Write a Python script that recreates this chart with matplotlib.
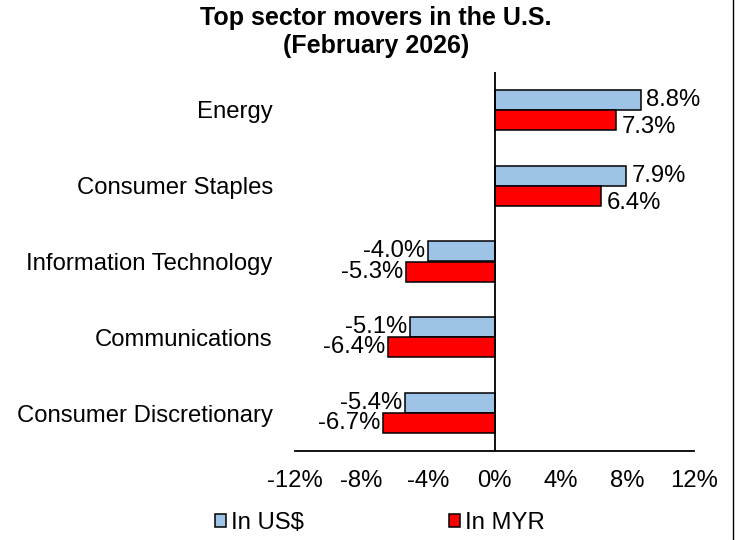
import matplotlib
matplotlib.use("Agg")
import matplotlib.pyplot as plt
from matplotlib.lines import Line2D
import numpy as np

plt.rcParams['font.family'] = ['Liberation Sans', 'DejaVu Sans']

sectors = ["Energy", "Consumer Staples", "Information Technology",
           "Communications", "Consumer Discretionary"]
in_usd = [8.8, 7.9, -4.0, -5.1, -5.4]
in_myr = [7.3, 6.4, -5.3, -6.4, -6.7]
xticks = [-12, -8, -4, 0, 4, 8, 12]

fs = 17.2
fig = plt.figure(figsize=(7.36, 5.4), dpi=100)
ax = fig.add_axes([295 / 736, 89 / 540, 399 / 736, 379 / 540])

y = np.arange(len(sectors))
h = 0.264
b1 = ax.barh(y - h / 2, in_usd, height=h, color='#9DC3E6', edgecolor='black',
             linewidth=1.1, label='In US$')
b2 = ax.barh(y + h / 2, in_myr, height=h, color='#FF0000', edgecolor='black',
             linewidth=1.1, label='In MYR')

for bars, vals, dy in [(b1, in_usd, 0), (b2, in_myr, -5)]:
    for bar, v in zip(bars, vals):
        yc = bar.get_y() + bar.get_height() / 2
        ax.annotate(f"{v:.1f}%", (v, yc),
                    xytext=(4 if v > 0 else -2, dy if v > 0 else 0),
                    textcoords='offset points',
                    ha='left' if v > 0 else 'right', va='center', fontsize=fs)

ax.set_xlim(-12, 12)
ax.set_ylim(len(sectors) - 0.5, -0.5)
ax.set_xticks(xticks)
ax.set_xticklabels([f"{t}%" for t in xticks], fontsize=fs)
ax.set_yticks(y)
ax.set_yticklabels(sectors, fontsize=fs)
ax.tick_params(axis='x', length=0, pad=14)
ax.tick_params(axis='y', length=0, pad=16)
for s in ['top', 'right', 'left']:
    ax.spines[s].set_visible(False)
ax.spines['bottom'].set_linewidth(1.3)
ax.axvline(0, color='black', linewidth=1.3)

fig.suptitle("Top sector movers in the U.S.\n(February 2026)", fontsize=18,
             fontweight='bold', x=376 / 736, y=0.988, va='top', linespacing=1.2)

fig.legend(handles=[b1, b2], loc='center', bbox_to_anchor=(380 / 736, 1 - 523 / 540),
           ncol=2, frameon=False, fontsize=fs, handlelength=0.45, handleheight=0.45,
           handletextpad=0.2, columnspacing=6.1)

fig.add_artist(Line2D([733 / 736, 733 / 736], [0, 1], color='black', linewidth=1.0,
                      transform=fig.transFigure))

fig.savefig("out.png", dpi=100)
